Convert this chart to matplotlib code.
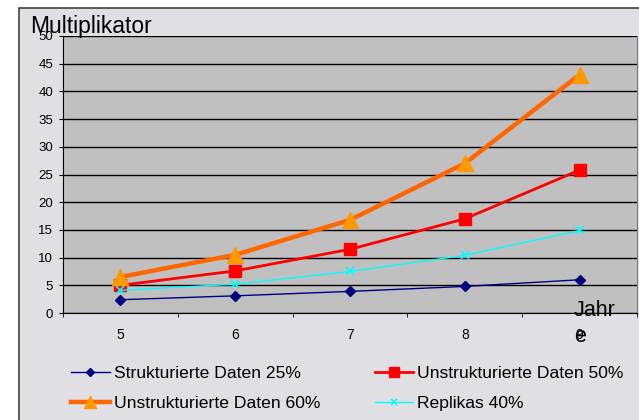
import matplotlib.pyplot as plt
from matplotlib.patches import Rectangle

plt.rcParams['font.family'] = ['Liberation Sans', 'DejaVu Sans']

jahre = [5, 6, 7, 8, 9]
strukt_25 = [2.4, 3.1, 3.9, 4.8, 6.0]
unstrukt_50 = [5.0, 7.6, 11.5, 17.0, 25.8]
unstrukt_60 = [6.5, 10.5, 16.8, 27.0, 43.0]
replikas_40 = [4.1, 5.2, 7.5, 10.4, 14.9]

W, H = 639, 420
fig = plt.figure(figsize=(W / 100, H / 100), dpi=100)
fig.patch.set_facecolor('white')

# chart area background with border
bg = Rectangle((19 / W, -0.01), 1, 1 - 8 / H + 0.01, transform=fig.transFigure,
               facecolor='#E0DFE3', edgecolor='#404040', lw=1.2, zorder=-5)
fig.patches.append(bg)

ax = fig.add_axes([63 / W, 1 - 313 / H, 574 / W, 277 / H])
ax.set_facecolor('#C0C0C0')

ax.plot(jahre, strukt_25, color='#000080', lw=1, marker='D', ms=5,
        label='Strukturierte Daten 25%')
ax.plot(jahre, unstrukt_50, color='#FF0000', lw=2, marker='s', ms=9,
        label='Unstrukturierte Daten 50%')
ax.plot(jahre, unstrukt_60, color='#FF6600', lw=3.2, marker='^', ms=12,
        markerfacecolor='#FF9900', markeredgecolor='#FF9900',
        label='Unstrukturierte Daten 60%')
ax.plot(jahre, replikas_40, color='#00FFFF', lw=1, marker='x', ms=6, mew=1.2,
        label='Replikas 40%')

ax.set_xlim(4.5, 9.5)
ax.set_ylim(0, 50)
ax.set_yticks(range(0, 51, 5))
ax.yaxis.grid(True, color='black', lw=1)
ax.set_axisbelow(True)
ax.set_xticks(jahre)
ax.set_xticks([4.5 + i for i in range(6)], minor=True)
ax.tick_params(axis='x', which='major', length=0, labelsize=10, pad=10.5)
ax.tick_params(axis='x', which='minor', length=3, direction='out', color='black')
ax.tick_params(axis='y', labelsize=9.5, length=3, direction='out', pad=4)

ax.spines['top'].set_visible(False)
ax.spines['right'].set_color('#808080')
ax.spines['left'].set_color('black')
ax.spines['bottom'].set_color('black')

fig.text(30 / W, 1 - 27 / H, 'Multiplikator', fontsize=16.5, va='center', ha='left')
fig.text(574 / W, 1 - 311 / H, 'Jahr', fontsize=15.5, va='center', ha='left')
fig.text(574 / W, 1 - 336 / H, 'e', fontsize=15.5, va='center', ha='left')

handles, labels = ax.get_legend_handles_labels()
order = [0, 2, 1, 3]
leg = fig.legend([handles[i] for i in order], [labels[i] for i in order],
                 loc='center left', bbox_to_anchor=(71 / W, 1 - 388.5 / H), ncol=2,
                 frameon=False, fontsize=12.6, handlelength=2.2, handletextpad=0.25,
                 columnspacing=3.1, labelspacing=0.8, markerscale=0.75,
                 borderpad=0, borderaxespad=0)

fig.savefig('out.png', dpi=100)
